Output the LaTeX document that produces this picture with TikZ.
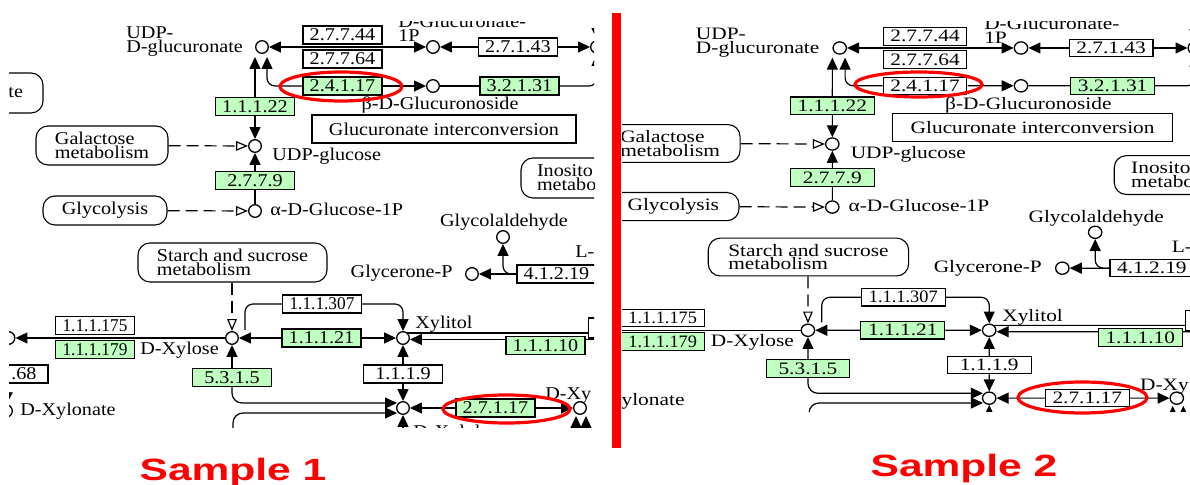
\documentclass[tikz,border=0pt]{standalone}
\usepackage{fontspec}
\newfontfamily\kfont[FakeStretch=1.12]{Liberation Serif}
\newfontfamily\kfontn[FakeStretch=0.96]{Liberation Serif}
\newfontfamily\smpfont[FakeStretch=1.38]{Liberation Sans}
\usetikzlibrary{arrows.meta,calc}
\definecolor{kgreen}{RGB}{191,255,191}
\definecolor{kred}{RGB}{255,0,0}
\tikzset{
  kfnt/.style={font=\fontsize{9}{7}\selectfont\kfont},
  ebox/.style={draw, line width=0.55pt, rectangle, minimum width=39.5pt, minimum height=9pt, inner sep=0pt, kfnt, fill=white},
  enarrow/.style={font=\fontsize{9}{7}\selectfont\kfontn},
  gbox/.style={ebox, fill=kgreen},
  cmp/.style={draw, circle, line width=0.65pt, minimum size=6.3pt, inner sep=0pt, fill=white},
  mapbox/.style={draw, line width=0.55pt, rounded corners=6pt, inner sep=0pt, kfnt, align=left, fill=white},
  lbl/.style={kfnt, inner sep=0pt},
  conn/.style={line width=0.6pt},
  arr/.style={conn, -{Triangle[length=6pt,width=5.5pt]}},
  darr/.style={conn, {Triangle[length=6pt,width=5.5pt]}-{Triangle[length=6pt,width=5.5pt]}},
  oarr/.style={conn, dash pattern=on 6pt off 3pt, -{Triangle[open,length=6pt,width=4.8pt,fill=white]}},
  hl/.style={draw=kred, line width=1.6pt},
  smp/.style={font=\fontsize{15.4}{15.4}\selectfont\smpfont\bfseries, text=kred, inner sep=0pt},
}
\newcommand{\keggpanel}[2]{%
  % enzyme boxes
  \node[ebox] (e27744) at (342.5,35) {2.7.7.44};
  \node[ebox] (e27764) at (342.5,59) {2.7.7.64};
  \node[ebox, fill=#1] (e24117) at (342.5,86) {2.4.1.17};
  \node[ebox] (e27143) at (518,47) {2.7.1.43};
  \node[gbox] (e32131) at (519.5,86) {3.2.1.31};
  \node[gbox] (e11122) at (255,106.5) {1.1.1.22};
  \node[gbox] (e2779) at (255,180.5) {2.7.7.9};
  \node[ebox, enarrow] (e111175) at (95,325.5) {1.1.1.175};
  \node[gbox, enarrow] (e111179) at (95,349.5) {1.1.1.179};
  \node[ebox, text width=28pt, align=right] (e68) at (8.5,374) {.68};
  \node[gbox] (e5315) at (232,377.5) {5.3.1.5};
  \node[ebox, enarrow] (e111307) at (322,304) {1.1.1.307};
  \node[gbox] (e11121) at (321.5,338) {1.1.1.21};
  \node[gbox] (e11110) at (545.5,345.5) {1.1.1.10};
  \node[ebox, minimum height=10pt] (epart) at (628,328) {};
  \node[ebox] (e1119) at (403,374) {1.1.1.9};
  \node[ebox, fill=#2] (e27117) at (495.5,408) {2.7.1.17};
  \node[ebox] (e41219) at (556.5,274) {4.1.2.19};
  % map boxes
  \node[mapbox, minimum width=67pt, minimum height=20pt, text width=47pt, align=right] (mapTe) at (-24,93) {te};
  \node[mapbox, minimum width=66pt, minimum height=19.5pt] (mapGal) at (102,145.5) {Galactose\\metabolism};
  \node[mapbox, minimum width=62pt, minimum height=14.5pt] (mapGlyc) at (105,210.5) {Glycolysis};
  \node[mapbox, minimum width=94.5pt, minimum height=19.5pt] (mapStarch) at (232.5,262.5) {Starch and sucrose\\metabolism};
  \node[mapbox, minimum width=60pt, minimum height=20pt, text width=44pt] (mapIno) at (581,178) {Inosito\\metabo};
  \node[draw, line width=0.55pt, kfnt, minimum width=132pt, minimum height=14pt, inner sep=0pt, fill=white] (gi) at (444,129) {Glucuronate interconversion};
  % compounds
  \node[cmp] (cUDPGA) at (262,47) {};
  \node[cmp] (cGlcA1P) at (433,47) {};
  \node[cmp] (cGlcA) at (597,47) {};
  \node[cmp] (cGlcAside) at (433,86) {};
  \node[cmp] (cUDPG) at (255,146) {};
  \node[cmp] (cGlc1P) at (255,211) {};
  \node[cmp] (cDXyl) at (232,338) {};
  \node[cmp] (cLeft) at (8.5,338) {};
  \node[cmp] (cDXylonate) at (6,411) {};
  \node[cmp] (cXylitol) at (403,338) {};
  \node[cmp] (cDXylu) at (403,408) {};
  \node[cmp] (cDXylu5P) at (580,408) {};
  \node[cmp] (cGlyald) at (503,237) {};
  \node[cmp] (cGlyP) at (472,274) {};
  % compound labels
  \node[lbl, align=left, anchor=north west] (lUDPGA) at (126,26) {UDP-\\D-glucuronate};
  \node[lbl, align=left, anchor=north west] (lGlcA1P) at (398,15) {D-Glucuronate-\\1P};
  \node[lbl, anchor=base] (lGlcAside) at (440,110) {β-D-Glucuronoside};
  \node[lbl, anchor=base west] (lUDPG) at (272,161) {UDP-glucose};
  \node[lbl, anchor=base west] (lGlc1P) at (270,215.5) {α-D-Glucose-1P};
  \node[lbl, anchor=base] (lGlyald) at (504,227) {Glycolaldehyde};
  \node[lbl, anchor=base east] (lGlyP) at (453,278) {Glycerone-P};
  \node[lbl, anchor=base west] (lL) at (575,258) {L-};
  \node[lbl, anchor=base west] (lXylitol) at (415,329) {Xylitol};
  \node[lbl, anchor=base west] (lDXyl) at (140,355) {D-Xylose};
  \node[lbl, anchor=base west] (lDXylonate) at (20,416) {D-Xylonate};
  \node[lbl, anchor=base west] (lDXy) at (545,400) {D-Xy};
  \node[lbl, anchor=base west] (lDXylu) at (413,438) {D-Xylulose};
  % helper coordinates
  \coordinate (tipL) at ($(cUDPGA.south)+(-7,3)$);
  \coordinate (tipR) at ($(cUDPGA.south)+(5,3)$);
  \coordinate (gTop) at (597,0);
  \coordinate (inA) at ($(cDXylu)+(-6,-5)$);
  \coordinate (inB) at ($(cDXylu)+(-6,5)$);
  \coordinate (botB) at (233,460);
  \coordinate (botX) at (403,460);
  \coordinate (bot5a) at (576,460);
  \coordinate (bot5b) at (586,460);
  \coordinate (tip5a) at ($(cDXylu5P.south)+(-4,1)$);
  \coordinate (tip5b) at ($(cDXylu5P.south)+(6,1)$);
  \coordinate (xyEnd) at ($(cDXyl)+(13,-8)$);
  \coordinate (xylUp) at ($(cXylitol)+(4,-5)$);
  \coordinate (xylIn) at ($(cXylitol.east)+(0,1.5)$);
  \coordinate (e10out) at ($(e11110.east)+(30,-6)$);
  % connectors
  \draw[darr] (cUDPGA) -- (cGlcA1P);
  \draw[arr] (e27143) -- (cGlcA1P);
  \draw[arr] (e27143) -- (cGlcA);
  \draw[arr] (gTop) -- (cGlcA);
  \draw[arr, rounded corners=4pt] (e32131.east) -| (cGlcA.south);
  \draw[arr] (e24117) -- (cGlcAside);
  \draw[conn] (cGlcAside) -- (e32131);
  \draw[arr, rounded corners=4pt] (e24117.west) -| (tipR);
  \draw[arr] (e11122.north) -- (tipL);
  \draw[arr] (e11122) -- (cUDPG);
  \draw[arr] (e2779) -- (cUDPG);
  \draw[conn] (e2779) -- (cGlc1P);
  \draw[oarr] (mapGal) -- (cUDPG);
  \draw[oarr] (mapGlyc) -- (cGlc1P);
  \draw[oarr] (mapStarch.south -| cDXyl) -- (cDXyl);
  \draw[arr] (cDXyl) -- (cLeft);
  \draw[arr] (e11121) -- (cDXyl);
  \draw[arr] (e11121) -- (cXylitol);
  \draw[arr] (e5315) -- (cDXyl);
  \draw[arr, rounded corners=5pt] (e5315.south) |- (inA);
  \draw[arr, rounded corners=5pt] (botB) |- (inB);
  \draw[conn, rounded corners=4pt] (e111307.west) -| (xyEnd);
  \draw[arr, rounded corners=4pt] (e111307.east) -| (cXylitol.north);
  \draw[arr] (e1119) -- (cXylitol);
  \draw[arr] (e1119) -- (cDXylu);
  \draw[conn] (xylUp) -- ($(epart.west)+(0,5)$);
  \draw[arr] ($(e11110.west)+(0,-6)$) -- (xylIn);
  \draw[conn] ($(e11110.east)+(0,-6)$) -- (e10out);
  \draw[arr] (e27117) -- (cDXylu);
  \draw[arr] (e27117) -- (cDXylu5P);
  \draw[arr] (bot5a) -- (tip5a);
  \draw[arr] (bot5b) -- (tip5b);
  \draw[arr] (botX) -- (cDXylu);
  \draw[arr] (e41219) -- (cGlyP);
  \draw[arr, rounded corners=4pt] (e41219.west) -| (cGlyald.south);
  \draw[conn] (cLeft) -- (e68);
  \draw[arr] (e68) -- (cDXylonate);
}
\begin{document}
\begin{tikzpicture}[x=0.5pt,y=-0.5pt]
\useasboundingbox (0,0) rectangle (1190,485);
\fill[white] (0,0) rectangle (1190,485);
% panel 1
\begin{scope}
  \clip (9,22) rectangle (594,428);
  \begin{scope}[name prefix=a-]
    \keggpanel{kgreen}{kgreen}
  \end{scope}
\end{scope}
% panel 2
\begin{scope}
  \clip (622,22) rectangle (1190,412);
  \begin{scope}[shift={(562,2.4)}, xscale=1.06, yscale=0.97, transform shape, name prefix=b-]
    \keggpanel{white}{white}
  \end{scope}
\end{scope}
% separator
\fill[kred] (612,13) rectangle (621,448);
% highlights
\draw[hl] (341,86.5) ellipse [x radius=61, y radius=14.5];
\draw[hl] (506.5,409) ellipse [x radius=63.5, y radius=14];
\draw[hl] (918.5,84.5) ellipse [x radius=63.5, y radius=12.5];
\draw[hl] (1082.5,397.5) ellipse [x radius=64.5, y radius=15.5];
% sample labels
\node[smp, anchor=base] (s1) at (233,481) {Sample 1};
\node[smp, anchor=base] (s2) at (964,477) {Sample 2};
\end{tikzpicture}
\end{document}
